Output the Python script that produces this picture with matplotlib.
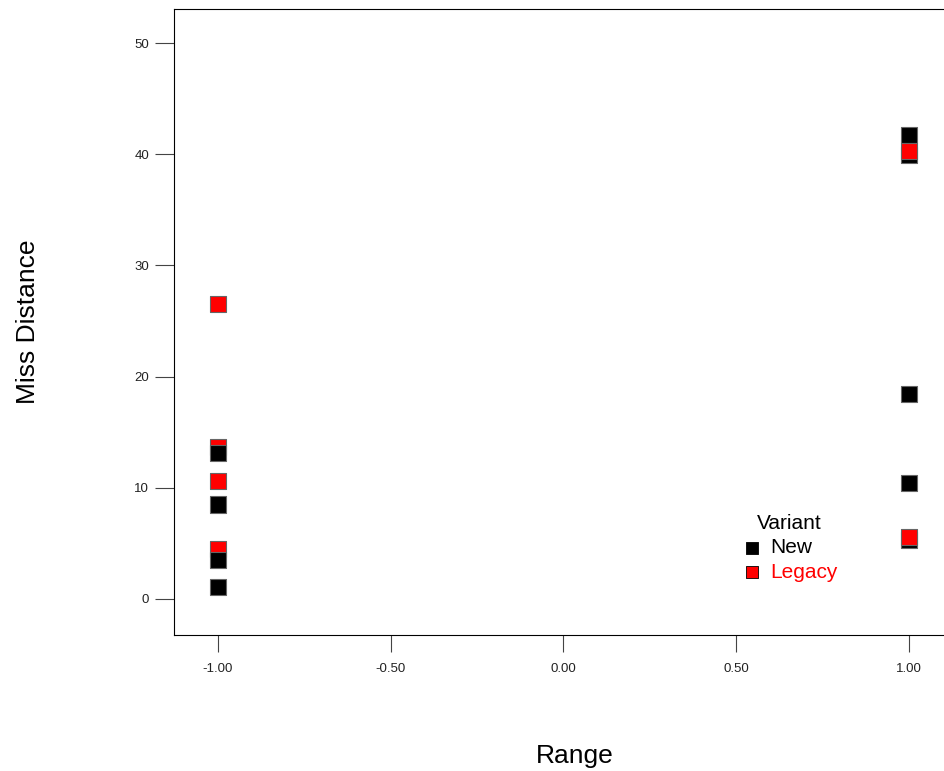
import matplotlib.pyplot as plt

plt.rcParams["font.family"] = ["Liberation Sans", "DejaVu Sans"]

# points in drawing order (later ones sit on top)
range_vals = [-1, -1, -1, -1, -1, -1, -1, -1,
              1, 1, 1, 1, 1, 1, 1]
miss_vals = [26.5, 13.7, 13.1, 10.6, 8.5, 4.5, 3.5, 1.1,
             41.7, 39.9, 40.3, 18.4, 10.4, 5.3, 5.6]
variant = ["Legacy", "Legacy", "New", "Legacy", "New", "Legacy", "New", "New",
           "New", "New", "Legacy", "New", "New", "New", "Legacy"]

colours = {"New": "black", "Legacy": "red"}

fig = plt.figure(figsize=(9.44, 7.71), dpi=100)
# the plot frame runs past the right edge of the image
ax = fig.add_axes([0.1843, 0.1764, 0.8496, 0.8119])

ax.scatter(range_vals, miss_vals, c=[colours[v] for v in variant], marker="s",
           s=135, edgecolors="#666666", linewidths=0.8, zorder=3)

ax.set_xlim(-1.127, 1.194)
ax.set_ylim(-3.24, 53.06)
ax.set_xticks([-1, -0.5, 0, 0.5, 1])
ax.set_xticklabels(["-1.00", "-0.50", "0.00", "0.50", "1.00"])
ax.set_yticks([0, 10, 20, 30, 40, 50])
ax.tick_params(axis="y", length=14, width=0.8, labelsize=9.5, pad=4,
               color="#444444", labelcolor="#222222")
ax.tick_params(axis="x", length=12, width=0.8, labelsize=9.5, pad=8,
               color="#444444", labelcolor="#222222")

ax.set_xlabel("Range", fontsize=19, labelpad=50)
ax.set_ylabel("Miss Distance", fontsize=19, labelpad=68)

# legend
for v in ["New", "Legacy"]:
    ax.scatter([], [], c=colours[v], marker="s", s=75, edgecolors="black",
               linewidths=0.6, label=v)
leg = ax.legend(title="Variant", frameon=False, fontsize=15, title_fontsize=15,
                loc="upper left", bbox_to_anchor=(0.697, 0.207),
                handletextpad=0.4, borderaxespad=0, labelspacing=0.25,
                handlelength=1.0)
leg._legend_box.sep = 4
for t, v in zip(leg.get_texts(), ["New", "Legacy"]):
    t.set_color(colours[v])

fig.savefig("out.png", dpi=100)
